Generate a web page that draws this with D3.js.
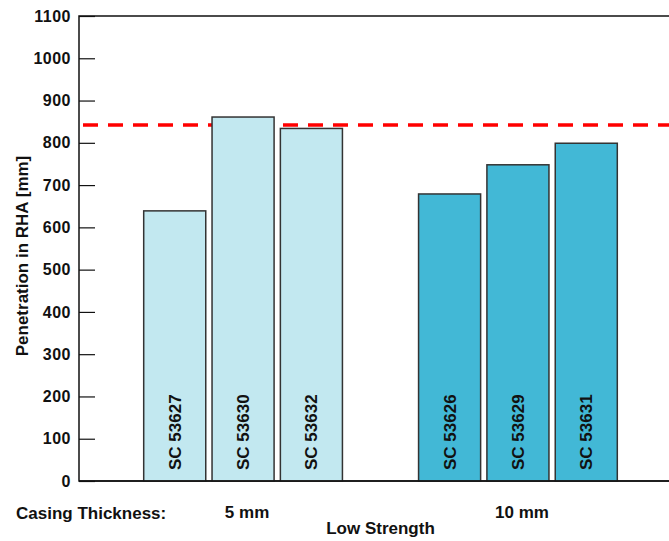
<!DOCTYPE html>
<html>
<head>
<meta charset="utf-8">
<script src="https://cdn.jsdelivr.net/npm/d3@7"></script>
<style>
  body { margin: 0; background: #fff; }
  svg { display: block; font-family: "Liberation Sans", Arial, Helvetica, sans-serif; }
</style>
</head>
<body>
<svg></svg>
<script>
//Chart data
const groups = ["5 mm", "10 mm"];
const samples = [["SC 53627", "SC 53630", "SC 53632"], ["SC 53626", "SC 53629", "SC 53631"]];
const penetration = [[639, 861, 834], [679, 748, 799]];
const referenceLine = 842;
const yTicks = [0, 100, 200, 300, 400, 500, 600, 700, 800, 900, 1000, 1100];
const groupColors = ["#c2e8f0", "#42b8d6"];

//Setting svg element
const width = 669;
const height = 541;
const plotLeft = 79;
const plotTop = 16;
const plotBottom = 481;
const svg = d3.select("svg").attr("width", width).attr("height", height);

const yScale = d3.scaleLinear().domain([0, 1100]).range([plotBottom, plotTop]);
const xGroup = d3.scaleBand().domain(groups).range([143.7, 617.3]).paddingInner(0.277).paddingOuter(0);
const xBar = d3.scaleBand().domain([0, 1, 2]).range([0, xGroup.bandwidth()]).paddingInner(0.092);

//Frame
svg.append("rect").attr("x", plotLeft).attr("y", plotTop).attr("width", width + 20 - plotLeft).attr("height", plotBottom - plotTop)
  .attr("fill", "none").attr("stroke", "#111").attr("stroke-width", 1.5);

//Y axis
const yAxis = d3.axisLeft(yScale).tickValues(yTicks).tickFormat(d3.format("d")).tickSize(-16).tickPadding(8);
const gy = svg.append("g").attr("transform", `translate(${plotLeft},0)`).call(yAxis);
gy.select(".domain").remove();
gy.selectAll(".tick line").attr("stroke", "#111").attr("stroke-width", 1.2);
gy.selectAll(".tick text").attr("font-size", 16).attr("font-weight", "bold").attr("fill", "#111")
  .attr("letter-spacing", 0.5).attr("font-family", "Liberation Sans, Arial, sans-serif");

svg.append("text").text("Penetration in RHA [mm]")
  .attr("transform", "translate(28,256) rotate(-90)").attr("text-anchor", "middle")
  .attr("font-size", 17).attr("font-weight", "bold").attr("fill", "#111");

//Reference line (behind the bars)
svg.append("line").attr("x1", 83).attr("x2", width + 5)
  .attr("y1", yScale(referenceLine)).attr("y2", yScale(referenceLine))
  .attr("stroke", "#f00").attr("stroke-width", 3.5).attr("stroke-dasharray", "15,10");

//Bars
const flat = [];
groups.forEach((g, gi) => {
  samples[gi].forEach((s, i) => flat.push({ group: g, gi: gi, i: i, name: s, value: penetration[gi][i] }));
});

svg.selectAll("rect.bar").data(flat).enter().append("rect").attr("class", "bar")
  .attr("x", d => xGroup(d.group) + xBar(d.i))
  .attr("y", d => yScale(d.value))
  .attr("width", xBar.bandwidth())
  .attr("height", d => yScale(0) - yScale(d.value))
  .attr("fill", d => groupColors[d.gi]).attr("stroke", "#333").attr("stroke-width", 1.5);

svg.selectAll("text.barlabel").data(flat).enter().append("text").attr("class", "barlabel")
  .text(d => d.name)
  .attr("transform", d => `translate(${xGroup(d.group) + xBar(d.i) + xBar.bandwidth() / 2 + 6},${plotBottom - 11}) rotate(-90)`)
  .attr("font-size", 17).attr("font-weight", "bold").attr("fill", "#111");

//X axis
const xAxis = d3.axisBottom(xGroup).tickSize(0).tickPadding(25);
const gx = svg.append("g").attr("transform", `translate(4,${plotBottom})`).call(xAxis);
gx.select(".domain").remove();
gx.selectAll(".tick text").attr("font-size", 17).attr("font-weight", "bold").attr("fill", "#111")
  .attr("font-family", "Liberation Sans, Arial, sans-serif");

svg.append("line").attr("x1", plotLeft).attr("x2", width + 5).attr("y1", plotBottom).attr("y2", plotBottom)
  .attr("stroke", "#111").attr("stroke-width", 1.5);

svg.append("text").text("Casing Thickness:").attr("x", 16).attr("y", 519)
  .attr("font-size", 17).attr("font-weight", "bold").attr("fill", "#111");
svg.append("text").text("Low Strength").attr("x", (xGroup("5 mm") + xGroup("10 mm") + xGroup.bandwidth()) / 2).attr("y", 534)
  .attr("text-anchor", "middle").attr("font-size", 17).attr("font-weight", "bold").attr("fill", "#111");
</script>
</body>
</html>
